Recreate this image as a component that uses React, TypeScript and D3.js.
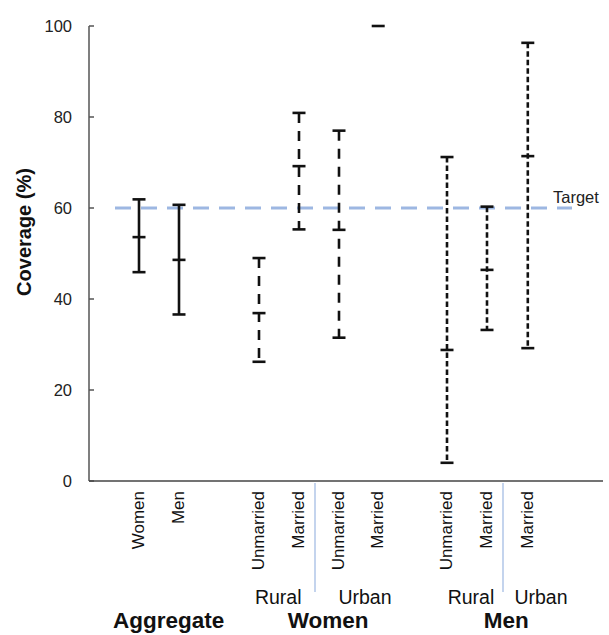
import React from "react";
import * as d3 from "d3";

// ---- data ----
const categoryLabels = ["Women", "Men", "Unmarried", "Married", "Unmarried", "Married", "Unmarried", "Married", "Married"];
const categoryGroup = ["Aggregate", "Aggregate", "Women", "Women", "Women", "Women", "Men", "Men", "Men"];
const estimates: (number | null)[] = [53.6, 48.6, 36.9, 69.2, 55.2, null, 28.8, 46.4, 71.4];
const lowerBounds = [45.9, 36.6, 26.2, 55.3, 31.5, 100, 4.0, 33.2, 29.2];
const upperBounds = [61.9, 60.7, 49.0, 80.9, 77.0, 100, 71.2, 60.3, 96.3];
const groupNames = ["Aggregate", "Women", "Men"];
const subgroupNames = ["Rural", "Urban", "Rural", "Urban"];
const yTicks = [0, 20, 40, 60, 80, 100];
const targetValue = 60;

// ---- layout (slot units along the x axis) ----
const categorySlots = [0, 1, 3, 4, 5, 5.98, 7.7, 8.7, 9.72];
const separatorSlots = [4.4, 9.1];
const subgroupSlots = [3.48, 5.65, 8.3, 10.05];
const groupSlots = [0.74, 4.73, 9.18];

const W = 609;
const H = 635;
const FONT = "'Liberation Sans', Arial, Helvetica, sans-serif";

const x = d3.scaleLinear().domain([0, 1]).range([139, 179]);
const y = d3.scaleLinear().domain([0, 100]).range([481, 26]);

const dashByGroup: Record<string, string | undefined> = {
  Aggregate: undefined,
  Women: "10,8",
  Men: "5.5,3",
};

const CAP = 6.5;

export default function App() {
  const axisLeft = 89;
  const axisRight = 603;
  return (
    <svg
      width={W}
      height={H}
      viewBox={`0 0 ${W} ${H}`}
      style={{ position: "absolute", left: 0, top: 0, background: "#fff" }}
      fontFamily={FONT}
    >
      {/* target line */}
      <line
        x1={115}
        x2={572}
        y1={y(targetValue)}
        y2={y(targetValue)}
        stroke="#9db7e2"
        strokeWidth={3}
        strokeDasharray="16,10"
      />
      <text x={553} y={y(targetValue) - 5} fontSize={16.5} fill="#222">
        Target
      </text>

      {/* y axis */}
      <line x1={axisLeft} x2={axisLeft} y1={y(100)} y2={y(0)} stroke="#555" strokeWidth={1.5} />
      {yTicks.map((t) => (
        <g key={t}>
          <line x1={axisLeft} x2={axisLeft + 5} y1={y(t)} y2={y(t)} stroke="#555" strokeWidth={1.5} />
          <text x={72} y={y(t)} dy="0.35em" textAnchor="end" fontSize={16.5} fill="#222">
            {t}
          </text>
        </g>
      ))}
      <text
        transform={`translate(31,232) rotate(-90)`}
        textAnchor="middle"
        fontSize={20}
        fontWeight="bold"
        fill="#111"
      >
        Coverage (%)
      </text>

      {/* x axis */}
      <line x1={axisLeft} x2={axisRight} y1={y(0)} y2={y(0)} stroke="#444" strokeWidth={1.5} />

      {/* error bars */}
      {categoryLabels.map((lab, i) => {
        const cx = x(categorySlots[i]);
        const lo = lowerBounds[i];
        const hi = upperBounds[i];
        const mid = estimates[i];
        const dash = dashByGroup[categoryGroup[i]];
        return (
          <g key={i} stroke="#111" strokeWidth={2.6}>
            {hi > lo && (
              <line x1={cx} x2={cx} y1={y(hi)} y2={y(lo)} strokeDasharray={dash} />
            )}
            <line x1={cx - CAP} x2={cx + CAP} y1={y(hi)} y2={y(hi)} />
            {hi > lo && <line x1={cx - CAP} x2={cx + CAP} y1={y(lo)} y2={y(lo)} />}
            {mid !== null && <line x1={cx - CAP} x2={cx + CAP} y1={y(mid)} y2={y(mid)} />}
          </g>
        );
      })}

      {/* category labels */}
      {categoryLabels.map((lab, i) => (
        <text
          key={i}
          transform={`translate(${x(categorySlots[i]) + 5},${491}) rotate(-90)`}
          textAnchor="end"
          fontSize={17}
          fill="#111"
        >
          {lab}
        </text>
      ))}

      {/* separators between subgroups */}
      {separatorSlots.map((s, i) => (
        <line
          key={i}
          x1={x(s)}
          x2={x(s)}
          y1={y(0) + 2}
          y2={592}
          stroke="#9db7e2"
          strokeWidth={1.2}
        />
      ))}

      {/* subgroup labels */}
      {subgroupNames.map((s, i) => (
        <text key={i} x={x(subgroupSlots[i])} y={604} textAnchor="middle" fontSize={19.5} fill="#111">
          {s}
        </text>
      ))}

      {/* group labels */}
      {groupNames.map((g, i) => (
        <text
          key={g}
          x={x(groupSlots[i])}
          y={628}
          textAnchor="middle"
          fontSize={22.5}
          fontWeight="bold"
          fill="#111"
        >
          {g}
        </text>
      ))}
    </svg>
  );
}
